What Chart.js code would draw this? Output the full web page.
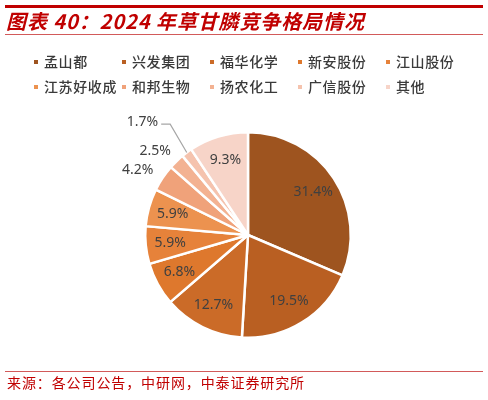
<!DOCTYPE html>
<html><head><meta charset="utf-8">
<script src="https://cdn.jsdelivr.net/npm/chart.js@4"></script>
<style>
html,body{margin:0;padding:0;background:#fff;}
#wrap{position:relative;width:488px;height:400px;overflow:hidden;font-family:"Noto Sans CJK SC",sans-serif;}
#c{position:absolute;left:0;top:0;}
.line{position:absolute;left:5px;width:478px;}
#title{position:absolute;left:6px;top:8px;font-size:20px;font-weight:bold;font-style:italic;color:#C00000;white-space:nowrap;line-height:26px;letter-spacing:0.9px;}
#legend{position:absolute;left:0;top:0;}
.li{position:absolute;font-size:14px;color:#3a3a3a;white-space:nowrap;letter-spacing:0.6px;line-height:18px;font-weight:500;}
.li i{display:inline-block;width:4px;height:4px;margin-right:6px;vertical-align:middle;position:relative;top:-1px;}
#src{position:absolute;left:7px;top:373px;font-size:14px;color:#C00000;white-space:nowrap;letter-spacing:0.9px;line-height:18px;}
</style></head>
<body><div id="wrap">
<canvas id="c" width="488" height="400"></canvas>
<div class="line" style="top:5px;height:2.5px;background:#C00000"></div>
<div id="title">图表 40：2024 年草甘膦竞争格局情况</div>
<div class="line" style="top:34px;height:1px;background:#D25A5A"></div>
<div id="legend"></div>
<div class="line" style="top:371px;height:1px;background:#D25A5A"></div>
<div id="src">来源：各公司公告，中研网，中泰证券研究所</div>
</div>
<script>
const categories = ['孟山都','兴发集团','福华化学','新安股份','江山股份','江苏好收成','和邦生物','扬农化工','广信股份','其他'];
const shares = [31.4, 19.5, 12.7, 6.8, 5.9, 5.9, 4.2, 2.5, 1.7, 9.3];
const colors = ['#9E541F','#B95F22','#CB6B28','#DE782D','#E6823A','#EC924F','#F0A27A','#F3B292','#F5C3AE','#F7D4C8'];

// legend
const lg = document.getElementById('legend');
categories.forEach((name, i) => {
  const d = document.createElement('div');
  d.className = 'li';
  const col = i % 5, row = Math.floor(i / 5);
  d.style.left = (34 + col * 88) + 'px';
  d.style.top = (52 + row * 25) + 'px';
  d.innerHTML = '<i style="background:' + colors[i] + '"></i>' + name;
  lg.appendChild(d);
});

const labelPlugin = {
  id: 'pieLabels',
  afterDatasetsDraw(chart) {
    const ctx = chart.ctx;
    const meta = chart.getDatasetMeta(0);
    ctx.save();
    ctx.font = '14px "Noto Sans", sans-serif';
    ctx.fillStyle = '#404040';
    ctx.textBaseline = 'middle';
    meta.data.forEach((el, i) => {
      const p = el.getProps(['x','y','startAngle','endAngle','outerRadius'], true);
      const mid = (p.startAngle + p.endAngle) / 2;
      const R = p.outerRadius;
      const dx = Math.cos(mid), dy = Math.sin(mid);
      const txt = shares[i].toFixed(1) + '%';
      const w = ctx.measureText(txt).width, h = 14;
      if (shares[i] >= 5) {
        ctx.textAlign = 'center';
        ctx.fillText(txt, p.x + dx * R * 0.76, p.y + dy * R * 0.76);
      } else if (shares[i] >= 2) {
        const px = p.x + dx * (R + 12), py = p.y + dy * (R + 12);
        ctx.textAlign = 'center';
        ctx.fillText(txt, px + dx * w / 2 - 2, py + dy * h / 2 + 3);
      } else {
        const ex = p.x + dx * R, ey = p.y + dy * R;
        const bx = p.x + dx * R * 1.32 + 3, by = p.y + dy * R * 1.32 - 2;
        ctx.strokeStyle = '#A6A6A6';
        ctx.lineWidth = 1.2;
        ctx.beginPath();
        ctx.moveTo(ex, ey);
        ctx.lineTo(bx, by);
        ctx.lineTo(bx - 9, by);
        ctx.stroke();
        ctx.textAlign = 'right';
        ctx.fillText(txt, bx - 12, by - 2);
      }
    });
    ctx.restore();
  }
};

new Chart(document.getElementById('c'), {
  type: 'pie',
  data: {
    labels: categories,
    datasets: [{ data: shares, backgroundColor: colors, borderColor: '#ffffff', borderWidth: 2.5 }]
  },
  options: {
    responsive: false,
    animation: false,
    layout: { padding: { left: 144, right: 136, top: 131, bottom: 61 } },
    plugins: { legend: { display: false }, tooltip: { enabled: false } }
  },
  plugins: [labelPlugin]
});
</script>
</body></html>
